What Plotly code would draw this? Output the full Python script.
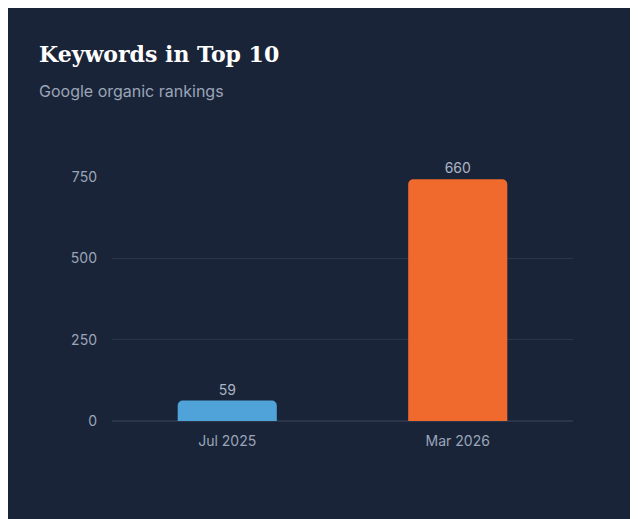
import plotly.graph_objects as go

periods = ["Jul 2025", "Mar 2026"]
bar_heights = [63, 743]
value_labels = ["59", "660"]
bar_colors = ["#4fa3d8", "#f06a2e"]
tick_vals = [0, 250, 500, 750]

fig = go.Figure()
fig.add_trace(go.Bar(
    x=periods, y=bar_heights, text=value_labels, textposition="outside",
    marker=dict(color=bar_colors, line=dict(width=0)),
    textfont=dict(color="#aab4c4", size=14, family="Inter"),
    cliponaxis=False, hoverinfo="skip",
))

fig.update_layout(
    width=638, height=519,
    paper_bgcolor="#1a2438", plot_bgcolor="#1a2438",
    margin=dict(l=104, r=73, t=168, b=106),
    bargap=0.57, barcornerradius=5, showlegend=False,
    font=dict(family="Inter", color="#9aa5b8", size=13),
    xaxis=dict(showgrid=False, zeroline=False, showline=False,
               tickfont=dict(size=14, color="#9aa5b8"), ticklabelstandoff=10),
    yaxis=dict(range=[0, 753], tickvals=tick_vals, gridcolor="#2a3549",
               zeroline=True, zerolinecolor="#2a3549", showline=False,
               ticklabelstandoff=14, tickfont=dict(size=14, color="#9aa5b8")),
)
fig.add_annotation(text="<b>Keywords in Top 10</b>", xref="paper", yref="paper",
                   x=-75/461, y=1 + 122/245, xanchor="left", yanchor="middle",
                   showarrow=False, font=dict(family="DejaVu Serif", size=22, color="#ffffff"))
fig.add_annotation(text="Google organic rankings", xref="paper", yref="paper",
                   x=-75/461, y=1 + 85/245, xanchor="left", yanchor="middle",
                   showarrow=False, font=dict(family="Inter", size=16, color="#9aa5b8"))

fig.write_html("out.html")
